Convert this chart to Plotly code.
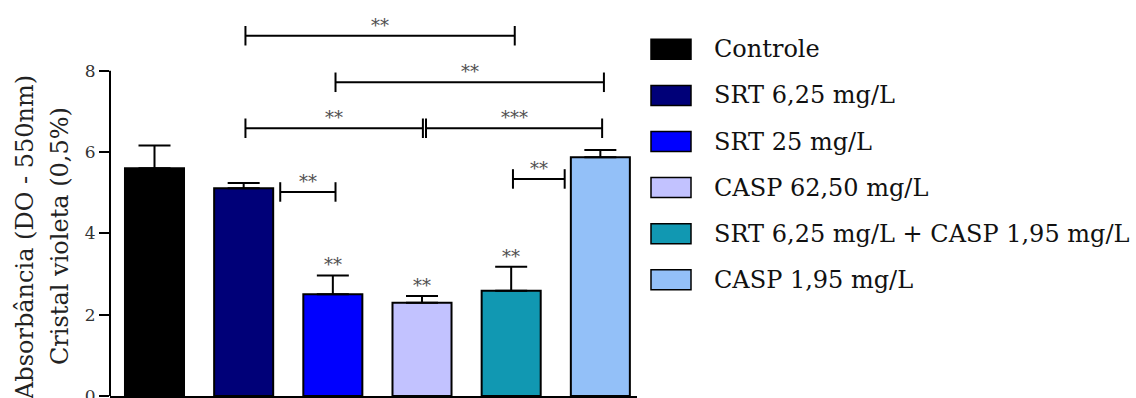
import plotly.graph_objects as go

# ---------------- data ----------------
categories = ["Controle", "SRT 6,25 mg/L", "SRT 25 mg/L", "CASP 62,50 mg/L",
              "SRT 6,25 mg/L + CASP 1,95 mg/L", "CASP 1,95 mg/L"]
means = [5.60, 5.11, 2.50, 2.29, 2.59, 5.87]
sem = [0.56, 0.13, 0.46, 0.17, 0.59, 0.18]
colors = ["#000000", "#000078", "#0000FF", "#C2C2FF", "#1198B2", "#93C0F8"]
bar_stars = ["", "", "**", "**", "**", ""]
ytick_vals = [0, 2, 4, 6, 8]
ytitle_1 = "Absorbância (DO - 550nm)"
ytitle_2 = "Cristal violeta (0,5%)"

# comparisons: (x_start, x_end, bracket level, label)
comparisons = [
    (1.02, 4.04, 8.86, "**"),
    (2.03, 5.04, 7.715, "**"),
    (1.02, 3.01, 6.584, "**"),
    (3.045, 5.02, 6.584, "***"),
    (1.41, 2.03, 5.017, "**"),
    (4.02, 4.60, 5.337, "**"),
]

# ---------------- geometry ----------------
W, H = 1136, 398
ML, MR, MT, MB = 110, 499, 0, 2
PW = W - ML - MR
PH = H - MT - MB
YMIN = -0.002
YMAX = 9.739
XR = [-0.499, 5.411]

def px_x(px):
    return (px - ML) / PW

def px_y(py):
    return (H - MB - py) / PH

serif = "DejaVu Serif, Liberation Serif, serif"

fig = go.Figure()
xs = list(range(len(categories)))
fig.add_trace(go.Bar(
    x=xs, y=means, width=0.662,
    marker=dict(color=colors, line=dict(color="black", width=2)),
    error_y=dict(type="data", array=sem, arrayminus=[0] * len(sem), symmetric=False,
                 thickness=2, width=16, color="black"),
    showlegend=False, hoverinfo="skip",
))

shapes = []
annotations = []

# y axis line from 0 to 8
shapes.append(dict(type="line", xref="paper", yref="y", x0=0, x1=0, y0=0, y1=max(ytick_vals),
                   line=dict(color="black", width=2)))

# brackets
tick_half = 0.24
star_font = dict(family=serif, size=18, color="#505050")
for x0, x1, lvl, lab in comparisons:
    shapes.append(dict(type="line", xref="x", yref="y", x0=x0, x1=x1, y0=lvl, y1=lvl,
                       line=dict(color="black", width=2)))
    for xx in (x0, x1):
        shapes.append(dict(type="line", xref="x", yref="y", x0=xx, x1=xx,
                           y0=lvl - tick_half, y1=lvl + tick_half,
                           line=dict(color="black", width=2)))
    annotations.append(dict(x=(x0 + x1) / 2, y=lvl + 0.36, xref="x", yref="y", text=lab,
                            showarrow=False, font=star_font, xanchor="center",
                            yanchor="middle", yshift=-4))

# stars above bars
for i, s in enumerate(bar_stars):
    if s:
        annotations.append(dict(x=i, y=means[i] + sem[i] + 0.36, xref="x", yref="y", text=s,
                                showarrow=False, font=star_font, xanchor="center",
                                yanchor="middle", yshift=-4))

# y-axis titles
annotations.append(dict(x=px_x(25), y=px_y(238), xref="paper", yref="paper", text=ytitle_1,
                        textangle=-90, showarrow=False, xanchor="center", yanchor="middle",
                        font=dict(family=serif, size=24, color="#222222")))
annotations.append(dict(x=px_x(60), y=px_y(236), xref="paper", yref="paper", text=ytitle_2,
                        textangle=-90, showarrow=False, xanchor="center", yanchor="middle",
                        font=dict(family=serif, size=24, color="#222222")))

# manual legend
for i, (cat, col) in enumerate(zip(categories, colors)):
    cy = 49.3 + 46.1 * i
    shapes.append(dict(type="rect", xref="paper", yref="paper",
                       x0=px_x(651), x1=px_x(691), y0=px_y(cy + 10), y1=px_y(cy - 10),
                       fillcolor=col, line=dict(color="black", width=1.5)))
    annotations.append(dict(x=px_x(712), y=px_y(cy), xref="paper", yref="paper", text=cat,
                            showarrow=False, xanchor="left", yanchor="middle",
                            font=dict(family=serif, size=24, color="#111111")))

fig.update_layout(
    width=W, height=H,
    margin=dict(l=ML, r=MR, t=MT, b=MB, pad=0, autoexpand=False),
    paper_bgcolor="white", plot_bgcolor="white",
    font=dict(family=serif),
    xaxis=dict(range=XR, showticklabels=False, ticks="", showgrid=False, zeroline=False,
               showline=True, linecolor="black", linewidth=2, fixedrange=True),
    yaxis=dict(range=[YMIN, YMAX], tickvals=ytick_vals, ticks="outside", ticklen=10, tickwidth=2,
               tickcolor="black", showgrid=False, zeroline=False, showline=False,
               ticklabeloverflow="allow", automargin=False,
               tickfont=dict(family=serif, size=17, color="#333333"), fixedrange=True),
    shapes=shapes, annotations=annotations,
    showlegend=False,
)

fig.write_html("out.html")
